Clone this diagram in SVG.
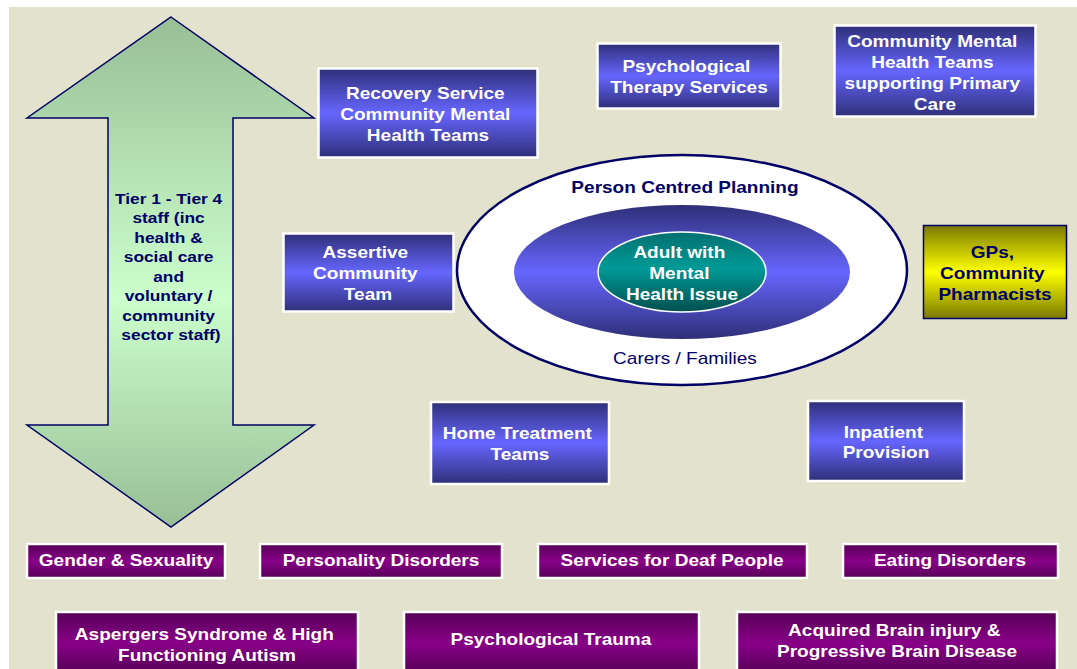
<svg xmlns="http://www.w3.org/2000/svg" width="1077" height="669" viewBox="0 0 1077 669">
  <defs>
    <linearGradient id="gBlue" x1="0" y1="0" x2="0" y2="1">
      <stop offset="0" stop-color="#2f2f78"/>
      <stop offset="0.5" stop-color="#6666ff"/>
      <stop offset="1" stop-color="#2f2f78"/>
    </linearGradient>
    <linearGradient id="gPurple" x1="0" y1="0" x2="0" y2="1">
      <stop offset="0" stop-color="#560056"/>
      <stop offset="0.5" stop-color="#880088"/>
      <stop offset="1" stop-color="#560056"/>
    </linearGradient>
    <linearGradient id="gYellow" x1="0" y1="0" x2="0" y2="1">
      <stop offset="0" stop-color="#7a7a00"/>
      <stop offset="0.5" stop-color="#ffff00"/>
      <stop offset="1" stop-color="#7a7a00"/>
    </linearGradient>
    <linearGradient id="gGreen" gradientUnits="userSpaceOnUse" x1="0" y1="17" x2="0" y2="527">
      <stop offset="0" stop-color="#98be96"/>
      <stop offset="0.55" stop-color="#ccffcc"/>
      <stop offset="1" stop-color="#98be96"/>
    </linearGradient>
    <linearGradient id="gTeal" x1="0" y1="0" x2="0" y2="1">
      <stop offset="0" stop-color="#007070"/>
      <stop offset="0.45" stop-color="#009a96"/>
      <stop offset="1" stop-color="#004f4f"/>
    </linearGradient>
    <style>
      text { font-family: "Liberation Sans", Arial, sans-serif; font-weight: bold; text-anchor: middle; }
      .wide { transform-box: fill-box; transform-origin: center; transform: scaleX(1.12); }
      .lbl { font-size: 17px; fill: #ffffff; }
      .dark { font-size: 17px; fill: #000066; }
      .tier { font-size: 15.5px; fill: #000066; }
      .plain { font-weight: normal; }
      .blue { fill: url(#gBlue); stroke: #ffffff; stroke-width: 2.5; }
      .purple { fill: url(#gPurple); stroke: #ffffff; stroke-width: 2.5; }
    </style>
  </defs>

  <!-- page -->
  <rect x="0" y="0" width="1077" height="669" fill="#ffffff"/>
  <rect x="9" y="7" width="1068" height="662" fill="#e3e2cc"/>

  <!-- double-headed tier arrow -->
  <g id="tier-arrow">
    <path d="M171 17 L314 118 L233 118 L233 425 L314 425 L171 527 L27 425 L108 425 L108 118 L27 118 Z" fill="url(#gGreen)" stroke="#000066" stroke-width="1.5" stroke-linejoin="miter"/>
    <text class="tier wide">
      <tspan x="171" y="204">Tier 1 - Tier 4</tspan>
      <tspan x="171" y="223.5">staff (inc</tspan>
      <tspan x="171" y="243">health &amp;</tspan>
      <tspan x="171" y="262.5">social care</tspan>
      <tspan x="171" y="282">and</tspan>
      <tspan x="171" y="301.5">voluntary /</tspan>
      <tspan x="171" y="321">community</tspan>
      <tspan x="171" y="340.5">sector staff)</tspan>
    </text>
  </g>

  <!-- centre: nested ellipses -->
  <g id="person-centred-planning">
    <ellipse cx="682" cy="270" rx="225" ry="115" fill="#ffffff" stroke="#000066" stroke-width="2.5"/>
    <text class="dark wide" x="685" y="193">Person Centred Planning</text>
    <text class="dark plain wide" x="685" y="364">Carers / Families</text>
  </g>
  <g id="carers-families">
    <ellipse cx="682" cy="272" rx="168" ry="67" fill="url(#gBlue)"/>
  </g>
  <g id="adult">
    <ellipse cx="682" cy="272" rx="84" ry="40" fill="url(#gTeal)" stroke="#ffffff" stroke-width="1.5"/>
    <text class="lbl wide">
      <tspan x="682" y="258">Adult with</tspan>
      <tspan x="682" y="279">Mental</tspan>
      <tspan x="682" y="300">Health Issue</tspan>
    </text>
  </g>

  <!-- service boxes -->
  <g id="recovery-service">
    <rect class="blue" x="318.5" y="68.5" width="219" height="89"/>
    <text class="lbl wide">
      <tspan x="428" y="99">Recovery Service</tspan>
      <tspan x="428" y="120">Community Mental</tspan>
      <tspan x="428" y="141">Health Teams</tspan>
    </text>
  </g>
  <g id="psychological-therapy">
    <rect class="blue" x="597.5" y="43.5" width="183" height="65"/>
    <text class="lbl wide">
      <tspan x="689" y="72">Psychological</tspan>
      <tspan x="689" y="93">Therapy Services</tspan>
    </text>
  </g>
  <g id="cmht-primary-care">
    <rect class="blue" x="834.5" y="25.5" width="201" height="91"/>
    <text class="lbl wide">
      <tspan x="935" y="47">Community Mental</tspan>
      <tspan x="935" y="68">Health Teams</tspan>
      <tspan x="935" y="89">supporting Primary</tspan>
      <tspan x="935" y="110">Care</tspan>
    </text>
  </g>
  <g id="assertive-community">
    <rect class="blue" x="283.5" y="233.5" width="170" height="78"/>
    <text class="lbl wide">
      <tspan x="368" y="258">Assertive</tspan>
      <tspan x="368" y="279">Community</tspan>
      <tspan x="368" y="300">Team</tspan>
    </text>
  </g>
  <g id="gps-pharmacists">
    <rect x="923.5" y="225.5" width="143" height="93" fill="url(#gYellow)" stroke="#000066" stroke-width="1.5"/>
    <text class="dark wide">
      <tspan x="995" y="258">GPs,</tspan>
      <tspan x="995" y="279">Community</tspan>
      <tspan x="995" y="300">Pharmacists</tspan>
    </text>
  </g>
  <g id="home-treatment">
    <rect class="blue" x="431" y="402" width="178" height="82"/>
    <text class="lbl wide">
      <tspan x="520" y="439">Home Treatment</tspan>
      <tspan x="520" y="460">Teams</tspan>
    </text>
  </g>
  <g id="inpatient">
    <rect class="blue" x="808" y="401" width="156" height="80"/>
    <text class="lbl wide">
      <tspan x="886" y="438">Inpatient</tspan>
      <tspan x="886" y="458">Provision</tspan>
    </text>
  </g>

  <!-- specialist services, first row -->
  <g id="gender-sexuality">
    <rect class="purple" x="27" y="544" width="198" height="34"/>
    <text class="lbl wide" x="126" y="566">Gender &amp; Sexuality</text>
  </g>
  <g id="personality-disorders">
    <rect class="purple" x="260" y="544" width="242" height="34"/>
    <text class="lbl wide" x="381" y="566">Personality Disorders</text>
  </g>
  <g id="deaf-services">
    <rect class="purple" x="538" y="544" width="269" height="34"/>
    <text class="lbl wide" x="672" y="566">Services for Deaf People</text>
  </g>
  <g id="eating-disorders">
    <rect class="purple" x="843" y="544" width="215" height="34"/>
    <text class="lbl wide" x="950" y="566">Eating Disorders</text>
  </g>

  <!-- specialist services, second row -->
  <g id="aspergers">
    <rect class="purple" x="56" y="612" width="302" height="62"/>
    <text class="lbl wide">
      <tspan x="207" y="640">Aspergers Syndrome &amp; High</tspan>
      <tspan x="207" y="661">Functioning Autism</tspan>
    </text>
  </g>
  <g id="psychological-trauma">
    <rect class="purple" x="404" y="612" width="295" height="62"/>
    <text class="lbl wide" x="551" y="645">Psychological Trauma</text>
  </g>
  <g id="acquired-brain-injury">
    <rect class="purple" x="737" y="612" width="320" height="62"/>
    <text class="lbl wide">
      <tspan x="897" y="636">Acquired Brain injury &amp;</tspan>
      <tspan x="897" y="657">Progressive Brain Disease</tspan>
    </text>
  </g>

  <g id="connectors"/>
</svg>
